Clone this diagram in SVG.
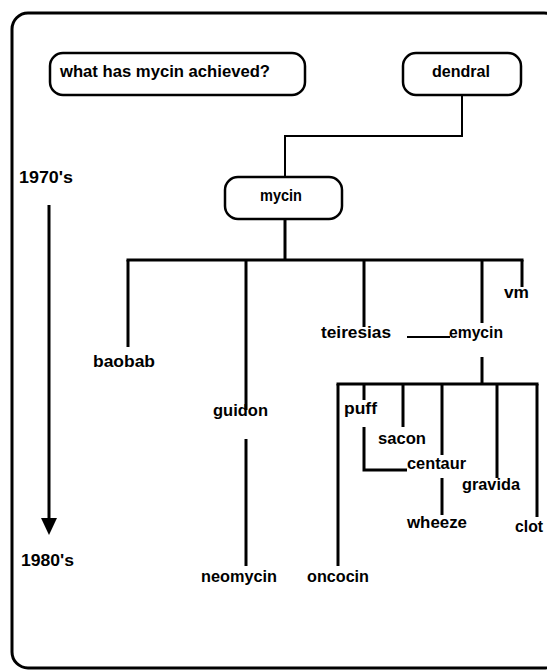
<svg xmlns="http://www.w3.org/2000/svg" width="547" height="670" viewBox="0 0 547 670">
<style>
  text { font-family: "Liberation Sans", Arial, sans-serif; font-weight: bold; font-size: 16px; fill: #000; }
  .box { fill: #fff; stroke: #000; stroke-width: 2.5; }
  .thick { stroke: #000; stroke-width: 3; fill: none; }
  .thin { stroke: #000; stroke-width: 2; fill: none; }
</style>
<rect x="0" y="0" width="547" height="670" fill="#fff"/>
<rect x="12" y="13" width="548" height="655" rx="16" fill="none" stroke="#000" stroke-width="3"/>

<g id="connectors">
  <polyline class="thin" points="462,95 462,136 285,136 285,177"/>
  <line class="thick" x1="285" y1="220" x2="285" y2="260"/>
  <line class="thick" x1="126.5" y1="260" x2="523.5" y2="260"/>
  <line class="thick" x1="128" y1="260" x2="128" y2="347"/>
  <line class="thick" x1="246" y1="260" x2="246" y2="410"/>
  <line class="thick" x1="246" y1="439" x2="246" y2="566"/>
  <line class="thick" x1="364" y1="260" x2="364" y2="327"/>
  <line class="thick" x1="482" y1="260" x2="482" y2="323"/>
  <line class="thick" x1="522" y1="260" x2="522" y2="287"/>
  <line class="thin" x1="407" y1="337" x2="450" y2="337"/>
  <line class="thick" x1="482" y1="357" x2="482" y2="384"/>
  <line class="thick" x1="336.5" y1="384" x2="538.5" y2="384"/>
  <line class="thick" x1="338" y1="384" x2="338" y2="566"/>
  <line class="thick" x1="364" y1="384" x2="364" y2="400"/>
  <polyline class="thick" points="364,427 364,470 407,470"/>
  <line class="thick" x1="403" y1="384" x2="403" y2="427"/>
  <line class="thick" x1="442" y1="384" x2="442" y2="455"/>
  <line class="thick" x1="442" y1="478" x2="442" y2="515"/>
  <line class="thick" x1="497" y1="384" x2="497" y2="478"/>
  <line class="thick" x1="537" y1="384" x2="537" y2="517"/>
</g>

<g id="timeline">
  <text x="19" y="183" textLength="54" lengthAdjust="spacingAndGlyphs">1970's</text>
  <line class="thick" x1="49" y1="205" x2="49" y2="520"/>
  <polygon points="41,518 57,518 49,535" fill="#000"/>
  <text x="21" y="566" textLength="53" lengthAdjust="spacingAndGlyphs">1980's</text>
</g>

<g id="question">
  <rect class="box" x="50" y="53" width="255" height="42" rx="13"/>
  <text x="60" y="77" textLength="210" lengthAdjust="spacingAndGlyphs">what has mycin achieved?</text>
</g>
<g id="dendral">
  <rect class="box" x="403" y="53" width="118" height="42" rx="13"/>
  <text x="432" y="77" textLength="58" lengthAdjust="spacingAndGlyphs">dendral</text>
</g>
<g id="mycin">
  <rect class="box" x="225" y="177" width="117" height="42" rx="13"/>
  <text x="260" y="201" textLength="42" lengthAdjust="spacingAndGlyphs">mycin</text>
</g>
<g id="baobab"><text x="93" y="367" textLength="62" lengthAdjust="spacingAndGlyphs">baobab</text></g>
<g id="guidon"><text x="213" y="416" textLength="55" lengthAdjust="spacingAndGlyphs">guidon</text></g>
<g id="neomycin"><text x="201" y="582" textLength="76" lengthAdjust="spacingAndGlyphs">neomycin</text></g>
<g id="teiresias"><text x="321" y="338" textLength="70" lengthAdjust="spacingAndGlyphs">teiresias</text></g>
<g id="emycin"><text x="449" y="338" textLength="54" lengthAdjust="spacingAndGlyphs">emycin</text></g>
<g id="vm"><text x="504" y="298" textLength="25" lengthAdjust="spacingAndGlyphs">vm</text></g>
<g id="puff"><text x="344" y="414" textLength="33" lengthAdjust="spacingAndGlyphs">puff</text></g>
<g id="sacon"><text x="378" y="444" textLength="48" lengthAdjust="spacingAndGlyphs">sacon</text></g>
<g id="centaur"><text x="407" y="469" textLength="59" lengthAdjust="spacingAndGlyphs">centaur</text></g>
<g id="gravida"><text x="462" y="490" textLength="58" lengthAdjust="spacingAndGlyphs">gravida</text></g>
<g id="wheeze"><text x="407" y="528" textLength="60" lengthAdjust="spacingAndGlyphs">wheeze</text></g>
<g id="clot"><text x="515" y="532" textLength="28" lengthAdjust="spacingAndGlyphs">clot</text></g>
<g id="oncocin"><text x="307" y="582" textLength="62" lengthAdjust="spacingAndGlyphs">oncocin</text></g>
</svg>
